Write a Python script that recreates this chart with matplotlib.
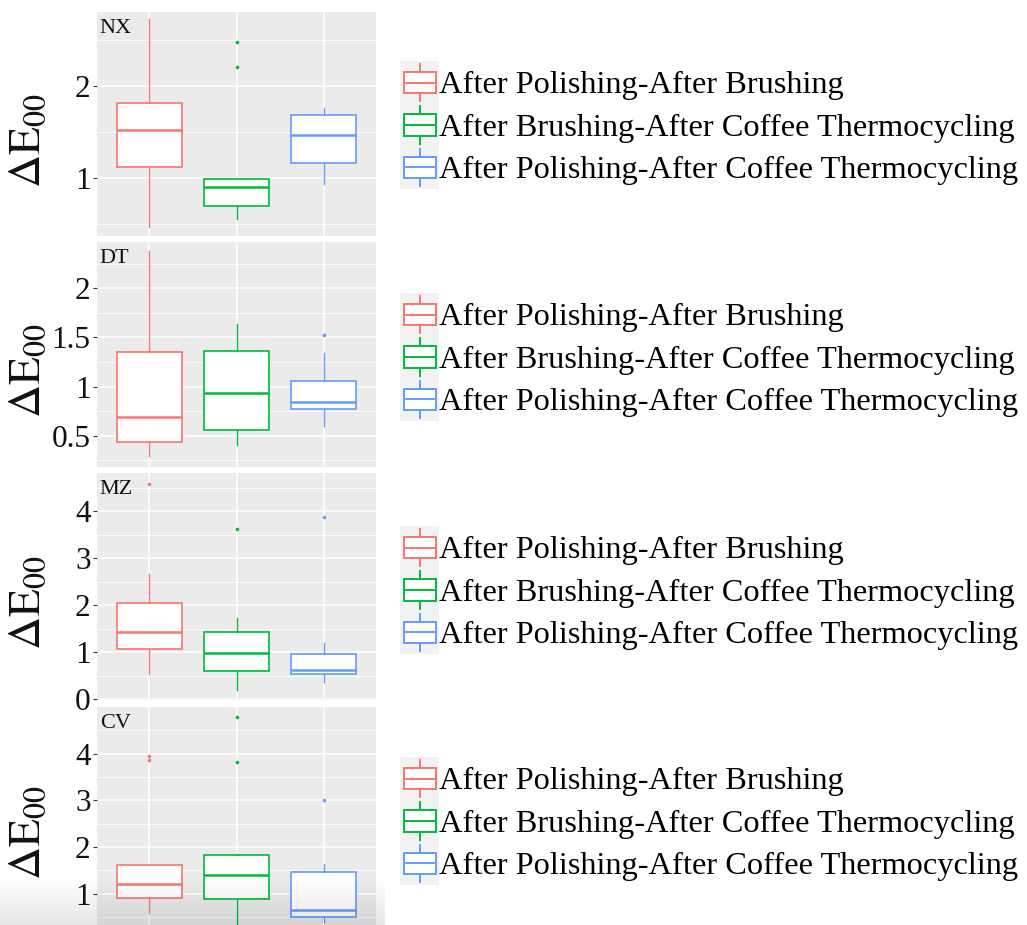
import numpy as np
import matplotlib
matplotlib.use("Agg")
from matplotlib import pyplot as plt
from matplotlib.patches import Rectangle
from matplotlib.lines import Line2D
from matplotlib.legend_handler import HandlerBase

plt.rcParams['font.family'] = ['Liberation Serif', 'DejaVu Serif']
plt.rcParams['mathtext.fontset'] = 'stix'

### ******************
###     data
### ******************

groups = ["After Polishing-After Brushing",
          "After Brushing-After Coffee Thermocycling",
          "After Polishing-After Coffee Thermocycling"]
colors = ["#F8766D", "#00BA38", "#619CFF"]

# box stats per group: lower whisker, Q1, median, Q3, upper whisker, outliers
nx_low  = [0.47, 0.55, 0.93]
nx_q1   = [1.12, 0.70, 1.16]
nx_med  = [1.52, 0.90, 1.47]
nx_q3   = [1.815, 0.99, 1.68]
nx_high = [2.72, 0.99, 1.76]
nx_out  = [[], [2.20, 2.47], []]

dt_low  = [0.29, 0.41, 0.60]
dt_q1   = [0.434, 0.56, 0.77]
dt_med  = [0.695, 0.94, 0.84]
dt_q3   = [1.35, 1.36, 1.06]
dt_high = [2.38, 1.64, 1.34]
dt_out  = [[], [], [1.52]]

mz_low  = [0.53, 0.19, 0.36]
mz_q1   = [1.07, 0.59, 0.54]
mz_med  = [1.435, 0.99, 0.63]
mz_q3   = [2.04, 1.435, 0.97]
mz_high = [2.66, 1.72, 1.19]
mz_out  = [[4.58], [3.62], [3.89]]

cv_low  = [0.58, 0.30, 0.40]
cv_q1   = [0.90, 0.88, 0.50]
cv_med  = [1.21, 1.41, 0.65]
cv_q3   = [1.61, 1.83, 1.46]
cv_high = [1.61, 1.86, 1.63]
cv_out  = [[3.87, 3.94], [3.82, 4.78], [3.00]]

panel_names = ["NX", "DT", "MZ", "CV"]
panel_ticks = [[1, 2], [0.5, 1, 1.5, 2], [0, 1, 2, 3, 4], [1, 2, 3, 4]]
panel_tick_labels = [["1", "2"], ["0.5", "1", "1.5", "2"],
                     ["0", "1", "2", "3", "4"], ["1", "2", "3", "4"]]
panel_ylim = [(0.37, 2.80), (0.183, 2.47), (-0.02, 4.82), (0.33, 5.0)]

### ******************
###     layout (pixels)
### ******************

W, H = 1027, 925
panel_px = [(12, 236), (242, 467), (473, 700), (707, 925)]   # top, bottom
legend_mid = [125, 357, 590, 821]
x_left, x_right = 97, 376

def fx(x): return x / W
def fy(y): return 1 - y / H


class BoxKey(HandlerBase):
    """ggplot-like legend key: grey tile with a tiny box and whiskers"""
    def create_artists(self, legend, orig_handle, xdescent, ydescent,
                       width, height, fontsize, trans):
        col = orig_handle.get_color()
        x0, y0 = -xdescent, -ydescent
        bg = Rectangle((x0, y0), width, height, facecolor="#F2F2F2",
                       edgecolor="none", transform=trans)
        bx = Rectangle((x0 + 0.1*width, y0 + 0.25*height), 0.8*width, 0.5*height,
                       facecolor="white", edgecolor=col, lw=1.4, transform=trans)
        med = Line2D([x0 + 0.1*width, x0 + 0.9*width], [y0 + 0.5*height]*2,
                     color=col, lw=1.4, transform=trans)
        xc = x0 + 0.5*width
        w1 = Line2D([xc, xc], [y0 + 0.06*height, y0 + 0.25*height], color=col, lw=1.4, transform=trans)
        w2 = Line2D([xc, xc], [y0 + 0.75*height, y0 + 0.94*height], color=col, lw=1.4, transform=trans)
        return [bg, bx, med, w1, w2]


fig = plt.figure(figsize=(W/100, H/100), dpi=100)

all_stats = [
    (nx_low, nx_q1, nx_med, nx_q3, nx_high, nx_out),
    (dt_low, dt_q1, dt_med, dt_q3, dt_high, dt_out),
    (mz_low, mz_q1, mz_med, mz_q3, mz_high, mz_out),
    (cv_low, cv_q1, cv_med, cv_q3, cv_high, cv_out),
]

for p, (low, q1, med, q3, high, out) in enumerate(all_stats):
    top, bot = panel_px[p]
    ax = fig.add_axes([fx(x_left), fy(bot), fx(x_right - x_left), (bot - top) / H])
    ax.set_facecolor("#EBEBEB")
    for s in ax.spines.values():
        s.set_visible(False)

    lo, hi = panel_ylim[p]
    ticks = panel_ticks[p]
    step = ticks[1] - ticks[0]
    minor = np.arange(ticks[0] - step/2, hi, step)
    minor = minor[(minor > lo) & (minor < hi)]
    for m in minor:
        ax.axhline(m, color="white", lw=0.6, zorder=0.5)
    for t in ticks:
        ax.axhline(t, color="white", lw=1.1, zorder=0.6)
    for xg in [1, 2, 3]:
        ax.axvline(xg, color="white", lw=1.1, zorder=0.6)

    for i in range(3):
        st = dict(whislo=low[i], q1=q1[i], med=med[i], q3=q3[i],
                  whishi=high[i], fliers=out[i])
        c = colors[i]
        ax.bxp([st], positions=[i + 1], widths=0.75, showcaps=False,
               patch_artist=True,
               boxprops=dict(facecolor="white", edgecolor=c, lw=1.2),
               medianprops=dict(color=c, lw=1.8),
               whiskerprops=dict(color=c, lw=1.0),
               flierprops=dict(marker="o", markersize=2.6, markerfacecolor=c,
                               markeredgecolor="none"),
               zorder=2)

    ax.set_xlim(0.4, 3.6)
    ax.set_ylim(lo, hi)
    ax.set_yticks(ticks)
    ax.set_yticklabels(panel_tick_labels[p])
    ax.tick_params(axis="y", labelsize=22.5, length=3, width=0.8,
                   color="#333333", pad=1.5, labelcolor="#111111")
    ax.set_xticks([])

    ax.annotate(panel_names[p], xy=(0, 1), xycoords="axes fraction",
                xytext=(2.0, -5.0), textcoords="offset points",
                ha="left", va="top", fontsize=16, color="#111111")

    fig.text(fx(28), fy((top + bot) / 2 + 16), r"$\mathrm{\Delta E_{00}}$",
             rotation=90, ha="center", va="center", fontsize=33, color="#111111")

    handles = [Line2D([], [], color=c) for c in colors]
    fig.legend(handles, groups, handler_map={Line2D: BoxKey()},
               loc="center left", bbox_to_anchor=(fx(400), fy(legend_mid[p])),
               frameon=False, fontsize=23.3, borderpad=0, borderaxespad=0,
               handlelength=1.22, handleheight=1.64, handletextpad=0.0,
               labelspacing=0)

# faint grey haze along the lower left edge
haze = np.linspace(0, 1, 50)[:, None] * np.ones((1, 10))
hax = fig.add_axes([0, 0, fx(385), 48 / H], zorder=10)
hax.imshow(np.zeros((50, 10)), cmap="gray", alpha=haze * 0.10,
           aspect="auto", extent=(0, 1, 0, 1))
hax.axis("off")

fig.savefig("out.png", dpi=100)
